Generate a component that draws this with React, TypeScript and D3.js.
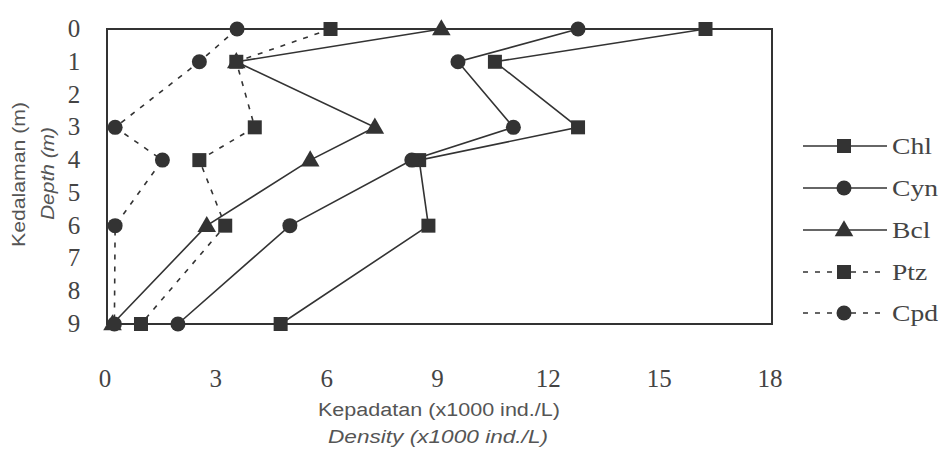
import React from "react";
import * as d3 from "d3";

const depths = [0, 1, 3, 4, 6, 9];
const chl = [16.2, 10.5, 12.75, 8.45, 8.7, 4.7];
const cyn = [12.75, 9.5, 11.0, 8.25, 4.95, 1.92];
const bcl = [9.05, 3.5, 7.25, 5.5, 2.7, 0.15];
const ptz = [6.05, 3.5, 4.0, 2.5, 3.2, 0.92];
const cpd = [3.52, 2.5, 0.22, 1.5, 0.22, 0.2];
const xTicks = [0, 3, 6, 9, 12, 15, 18];
const yTicks = [0, 1, 2, 3, 4, 5, 6, 7, 8, 9];

const seriesNames = ["Chl", "Cyn", "Bcl", "Ptz", "Cpd"];
const seriesValues = [chl, cyn, bcl, ptz, cpd];
const seriesShapes = ["square", "circle", "triangle", "square", "circle"];
const seriesDashed = [false, false, false, true, true];

const INK = "#333";

function Marker({ shape, x, y }: { shape: string; x: number; y: number }) {
  if (shape === "square") return <rect x={x - 7} y={y - 7} width={14} height={14} fill={INK} />;
  if (shape === "circle") return <circle cx={x} cy={y} r={7.5} fill={INK} />;
  const tri = d3.symbol(d3.symbolTriangle, 150)();
  return <path d={tri || ""} transform={`translate(${x},${y + 1})`} fill={INK} />;
}

export default function App() {
  const x = d3.scaleLinear().domain([0, 18]).range([107, 772]);
  const y = d3.scaleLinear().domain([0, 9]).range([29, 324]);
  const line = d3
    .line<[number, number]>()
    .x((d) => x(d[0]))
    .y((d) => y(d[1]));

  const legendY = [146, 188, 230, 272, 313];
  const sans = "'Liberation Sans', Arial, sans-serif";
  const serif = "'Liberation Serif', serif";

  return (
    <svg width={939} height={450} style={{ position: "absolute", left: 0, top: 0, background: "#fff" }}>
      <rect x={x(0)} y={y(0)} width={x(18) - x(0)} height={y(9) - y(0)} fill="none" stroke={INK} strokeWidth={2} />
      {seriesValues.map((vals, i) => (
        <path
          key={"l" + i}
          d={line(vals.map((v, j) => [v, depths[j]] as [number, number])) || ""}
          fill="none"
          stroke={INK}
          strokeWidth={1.6}
          strokeDasharray={seriesDashed[i] ? "5,7" : undefined}
        />
      ))}
      {seriesValues.map((vals, i) =>
        vals.map((v, j) => <Marker key={`m${i}-${j}`} shape={seriesShapes[i]} x={x(v)} y={y(depths[j])} />)
      )}
      {xTicks.map((t) => (
        <text
          key={"xt" + t}
          x={x(t) - 2}
          y={387}
          textAnchor="middle"
          fontFamily={serif}
          fontSize={25}
          fill="#444"
        >
          {t}
        </text>
      ))}
      {yTicks.map((t) => (
        <text key={"yt" + t} x={74} y={y(t) + 8} textAnchor="middle" fontFamily={serif} fontSize={25} fill="#444">
          {t}
        </text>
      ))}
      <text x={318} y={416} textLength={242} lengthAdjust="spacingAndGlyphs" fontFamily={sans} fontSize={18} fill="#555">
        Kepadatan (x1000 ind./L)
      </text>
      <text
        x={328}
        y={443}
        textLength={220}
        lengthAdjust="spacingAndGlyphs"
        fontFamily={sans}
        fontSize={18}
        fontStyle="italic"
        fill="#555"
      >
        Density (x1000 ind./L)
      </text>
      <text
        transform="translate(25,247) rotate(-90)"
        textLength={145}
        lengthAdjust="spacingAndGlyphs"
        fontFamily={sans}
        fontSize={18}
        fill="#555"
      >
        Kedalaman (m)
      </text>
      <text
        transform="translate(54,220) rotate(-90)"
        textLength={93}
        lengthAdjust="spacingAndGlyphs"
        fontFamily={sans}
        fontSize={18}
        fontStyle="italic"
        fill="#555"
      >
        Depth (m)
      </text>
      {seriesNames.map((name, i) => (
        <g key={"lg" + i}>
          <line
            x1={803}
            x2={887}
            y1={legendY[i]}
            y2={legendY[i]}
            stroke={INK}
            strokeWidth={1.6}
            strokeDasharray={seriesDashed[i] ? "5,7" : undefined}
          />
          <Marker shape={seriesShapes[i]} x={844} y={legendY[i]} />
          <text
            transform={`translate(892,${legendY[i] + 8}) scale(1.15,1)`}
            fontFamily={serif}
            fontSize={24}
            fill="#444"
          >
            {name}
          </text>
        </g>
      ))}
    </svg>
  );
}
